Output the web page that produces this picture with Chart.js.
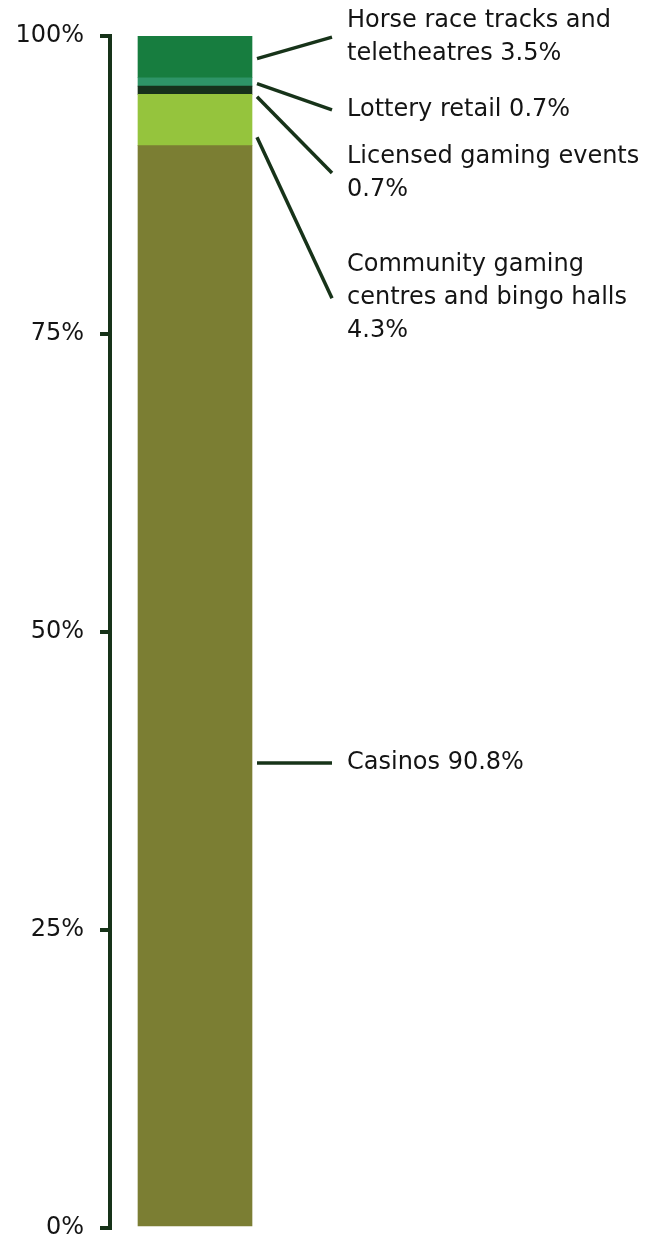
<!DOCTYPE html>
<html>
<head>
<meta charset="utf-8">
<script src="https://cdn.jsdelivr.net/npm/chart.js@4"></script>
<style>
  html, body { margin: 0; padding: 0; background: #fff; }
  #wrap { width: 646px; height: 1238px; position: relative; }
</style>
</head>
<body>
<div id="wrap"><canvas id="chart"></canvas></div>
<script>
// data, bottom of the bar first
const categories = ["Gaming revenue"];
const segmentNames = ["Casinos", "Community gaming centres and bingo halls", "Licensed gaming events", "Lottery retail", "Horse race tracks and teletheatres"];
const segmentValues = [90.8, 4.3, 0.7, 0.7, 3.5];
const segmentColors = ["#7b7e33", "#95c43d", "#16311b", "#2e9467", "#177d3f"];
const labelLines = [
    ["Casinos 90.8%"],
    ["Community gaming", "centres and bingo halls", "4.3%"],
    ["Licensed gaming events", "0.7%"],
    ["Lottery retail 0.7%"],
    ["Horse race tracks and", "teletheatres 3.5%"]
];
const yTicks = [0, 25, 50, 75, 100];

// where each leader line touches the bar, and where its label sits (in % on the y scale)
const anchorAt = [39.0, 91.5, 94.9, 96.0, 98.1];
const labelAt = [39.0, 78.0, 88.5, 93.8, 99.9];

const dark = "#173319";
const FONT = "'DejaVu Sans', sans-serif";

const leaderLabels = {
    id: "leaderLabels",
    afterDatasetsDraw(chart) {
        const ctx = chart.ctx;
        const y = chart.scales.y;
        const bar = chart.getDatasetMeta(0).data[0];
        const x0 = bar.x + bar.width / 2 + 5;
        const x1 = x0 + 75;
        const textX = x1 + 15;
        const lh = 33;
        ctx.save();
        ctx.strokeStyle = dark;
        ctx.lineWidth = 3.5;
        ctx.fillStyle = "#141414";
        ctx.font = "24px " + FONT;
        ctx.textBaseline = "middle";
        ctx.textAlign = "left";
        segmentNames.forEach((_, i) => {
            const ya = y.getPixelForValue(anchorAt[i]);
            const yl = y.getPixelForValue(labelAt[i]);
            ctx.beginPath();
            ctx.moveTo(x0, ya);
            ctx.lineTo(x1, yl);
            ctx.stroke();
            const lines = labelLines[i];
            const top = yl - (lines.length - 1) * lh / 2;
            lines.forEach((t, j) => ctx.fillText(t, textX, top + j * lh));
        });
        ctx.restore();
    }
};

new Chart(document.getElementById("chart"), {
    type: "bar",
    data: {
        labels: categories,
        datasets: segmentNames.map((name, i) => ({
            label: name,
            data: [segmentValues[i]],
            backgroundColor: segmentColors[i],
            borderWidth: 0,
            barThickness: 114
        }))
    },
    options: {
        responsive: true,
        maintainAspectRatio: false,
        animation: false,
        layout: { padding: { top: 36, bottom: 10, left: 0, right: 366 } },
        plugins: {
            legend: { display: false },
            tooltip: { enabled: false }
        },
        scales: {
            x: { stacked: true, display: false },
            y: {
                stacked: true,
                min: 0,
                max: 100,
                afterBuildTicks: axis => { axis.ticks = yTicks.map(v => ({ value: v })); },
                afterFit: axis => {
                    axis.width = 110;
                    axis.paddingTop = 0;
                    axis.paddingBottom = 0;
                },
                ticks: {
                    color: "#141414",
                    font: { family: FONT, size: 24 },
                    padding: 16,
                    callback: v => v + "%"
                },
                grid: {
                    drawOnChartArea: false,
                    drawTicks: true,
                    tickLength: 10,
                    color: dark,
                    lineWidth: 4
                },
                border: { display: true, color: dark, width: 4 }
            }
        }
    },
    plugins: [leaderLabels]
});
</script>
</body>
</html>
